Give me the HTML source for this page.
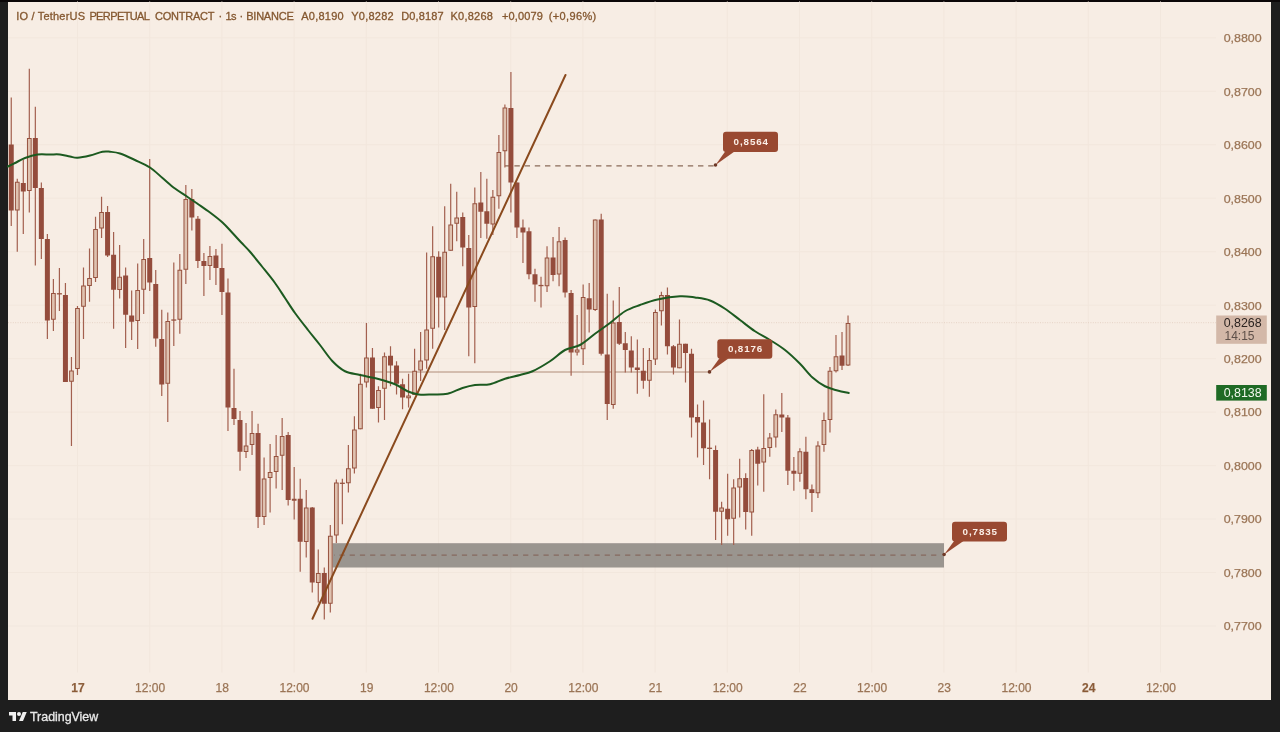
<!DOCTYPE html>
<html><head><meta charset="utf-8"><title>IO / TetherUS PERPETUAL CONTRACT</title>
<style>
html,body{margin:0;padding:0;}
body{width:1280px;height:732px;background:#1e1e1e;overflow:hidden;position:relative;font-family:"Liberation Sans",sans-serif;}
#top{position:absolute;left:0;top:0;width:1280px;height:1.5px;background:#0b0708;}
#chart{position:absolute;left:8px;top:1.5px;width:1263px;height:698px;background:#f7ede4;}
#hdr{position:absolute;left:16.2px;top:9.5px;font-size:11px;line-height:13px;color:#84572f;white-space:pre;-webkit-text-stroke:0.3px #84572f;}
#hdr span{position:absolute;top:0;white-space:pre;}
svg{position:absolute;left:0;top:0;}
svg text{font-family:"Liberation Sans",sans-serif;}
svg text.ax{stroke:#9b7556;stroke-width:0.25px;}
#logo{position:absolute;left:8.5px;top:709.8px;}
#tv{position:absolute;left:30px;top:710.1px;font-size:12.4px;line-height:14px;color:#e9e9e9;white-space:pre;-webkit-text-stroke:0.3px #e9e9e9;}
</style></head><body>
<div id="top"></div>
<div id="chart"></div>
<svg width="1280" height="732" viewBox="0 0 1280 732">
<rect x="77.0" y="1.5" width="1" height="671" fill="#f2e7dd"/>
<rect x="149.2" y="1.5" width="1" height="671" fill="#f2e7dd"/>
<rect x="221.4" y="1.5" width="1" height="671" fill="#f2e7dd"/>
<rect x="293.6" y="1.5" width="1" height="671" fill="#f2e7dd"/>
<rect x="365.8" y="1.5" width="1" height="671" fill="#f2e7dd"/>
<rect x="438.0" y="1.5" width="1" height="671" fill="#f2e7dd"/>
<rect x="510.2" y="1.5" width="1" height="671" fill="#f2e7dd"/>
<rect x="582.4" y="1.5" width="1" height="671" fill="#f2e7dd"/>
<rect x="654.6" y="1.5" width="1" height="671" fill="#f2e7dd"/>
<rect x="726.8" y="1.5" width="1" height="671" fill="#f2e7dd"/>
<rect x="799.0" y="1.5" width="1" height="671" fill="#f2e7dd"/>
<rect x="871.2" y="1.5" width="1" height="671" fill="#f2e7dd"/>
<rect x="943.4" y="1.5" width="1" height="671" fill="#f2e7dd"/>
<rect x="1015.6" y="1.5" width="1" height="671" fill="#f2e7dd"/>
<rect x="1087.8" y="1.5" width="1" height="671" fill="#f2e7dd"/>
<rect x="1160.0" y="1.5" width="1" height="671" fill="#f2e7dd"/>
<rect x="8" y="37.3" width="1208" height="1" fill="#f2e7dd"/>
<rect x="8" y="90.8" width="1208" height="1" fill="#f2e7dd"/>
<rect x="8" y="144.2" width="1208" height="1" fill="#f2e7dd"/>
<rect x="8" y="197.7" width="1208" height="1" fill="#f2e7dd"/>
<rect x="8" y="251.2" width="1208" height="1" fill="#f2e7dd"/>
<rect x="8" y="304.7" width="1208" height="1" fill="#f2e7dd"/>
<rect x="8" y="358.1" width="1208" height="1" fill="#f2e7dd"/>
<rect x="8" y="411.6" width="1208" height="1" fill="#f2e7dd"/>
<rect x="8" y="465.1" width="1208" height="1" fill="#f2e7dd"/>
<rect x="8" y="518.5" width="1208" height="1" fill="#f2e7dd"/>
<rect x="8" y="572.0" width="1208" height="1" fill="#f2e7dd"/>
<rect x="8" y="625.5" width="1208" height="1" fill="#f2e7dd"/>
<line x1="8" y1="322.7" x2="1216" y2="322.7" stroke="#e6d3c6" stroke-width="1" stroke-dasharray="1 1.4"/>
<rect x="332.5" y="543.2" width="611.5" height="24.3" fill="#8a8580" fill-opacity="0.85"/>
<line x1="936.3" y1="555.2" x2="334" y2="555.2" stroke="#85695f" stroke-width="1.3" stroke-dasharray="5.2 5"/>
<line x1="373.5" y1="372" x2="709.5" y2="372" stroke="#b08c79" stroke-width="1"/>
<line x1="713.6" y1="165.8" x2="505" y2="165.8" stroke="#8a6b58" stroke-width="1.3" stroke-dasharray="5.4 4.8"/>
<rect x="10.65" y="97.50" width="1.2" height="128.50" fill="#a3604f"/>
<rect x="8.75" y="144.50" width="5" height="66.00" fill="#944c3c"/>
<rect x="16.67" y="178.75" width="1.2" height="73.00" fill="#a3604f"/>
<rect x="15.42" y="182.25" width="3.7" height="27.75" fill="#dfc2b0" stroke="#96523f" stroke-width="1"/>
<rect x="22.69" y="160.00" width="1.2" height="74.00" fill="#a3604f"/>
<rect x="20.79" y="183.00" width="5" height="8.50" fill="#944c3c"/>
<rect x="28.71" y="68.75" width="1.2" height="143.75" fill="#a3604f"/>
<rect x="27.46" y="138.50" width="3.7" height="52.00" fill="#dfc2b0" stroke="#96523f" stroke-width="1"/>
<rect x="34.73" y="106.75" width="1.2" height="158.75" fill="#a3604f"/>
<rect x="32.83" y="138.00" width="5" height="50.00" fill="#944c3c"/>
<rect x="40.75" y="182.50" width="1.2" height="76.50" fill="#a3604f"/>
<rect x="38.85" y="188.00" width="5" height="51.00" fill="#944c3c"/>
<rect x="46.77" y="234.00" width="1.2" height="105.00" fill="#a3604f"/>
<rect x="44.87" y="239.00" width="5" height="81.50" fill="#944c3c"/>
<rect x="52.79" y="279.00" width="1.2" height="52.00" fill="#a3604f"/>
<rect x="51.54" y="293.50" width="3.7" height="25.75" fill="#dfc2b0" stroke="#96523f" stroke-width="1"/>
<rect x="58.81" y="268.00" width="1.2" height="43.00" fill="#a3604f"/>
<rect x="56.91" y="293.15" width="5" height="1.3" fill="#96523f"/>
<rect x="64.83" y="283.00" width="1.2" height="99.00" fill="#a3604f"/>
<rect x="62.93" y="295.00" width="5" height="87.00" fill="#944c3c"/>
<rect x="70.85" y="357.00" width="1.2" height="89.00" fill="#a3604f"/>
<rect x="69.60" y="371.00" width="3.7" height="10.25" fill="#dfc2b0" stroke="#96523f" stroke-width="1"/>
<rect x="76.87" y="306.00" width="1.2" height="69.00" fill="#a3604f"/>
<rect x="75.62" y="308.50" width="3.7" height="60.00" fill="#dfc2b0" stroke="#96523f" stroke-width="1"/>
<rect x="82.89" y="267.50" width="1.2" height="71.50" fill="#a3604f"/>
<rect x="81.64" y="286.00" width="3.7" height="20.25" fill="#dfc2b0" stroke="#96523f" stroke-width="1"/>
<rect x="88.91" y="248.50" width="1.2" height="53.25" fill="#a3604f"/>
<rect x="87.66" y="278.50" width="3.7" height="7.00" fill="#dfc2b0" stroke="#96523f" stroke-width="1"/>
<rect x="94.93" y="216.75" width="1.2" height="65.25" fill="#a3604f"/>
<rect x="93.68" y="229.50" width="3.7" height="48.00" fill="#dfc2b0" stroke="#96523f" stroke-width="1"/>
<rect x="100.95" y="196.75" width="1.2" height="41.25" fill="#a3604f"/>
<rect x="99.70" y="212.50" width="3.7" height="15.50" fill="#dfc2b0" stroke="#96523f" stroke-width="1"/>
<rect x="106.97" y="206.00" width="1.2" height="51.00" fill="#a3604f"/>
<rect x="105.07" y="212.00" width="5" height="43.50" fill="#944c3c"/>
<rect x="112.99" y="232.00" width="1.2" height="96.75" fill="#a3604f"/>
<rect x="111.09" y="254.75" width="5" height="35.00" fill="#944c3c"/>
<rect x="119.01" y="245.00" width="1.2" height="53.50" fill="#a3604f"/>
<rect x="117.76" y="277.25" width="3.7" height="12.25" fill="#dfc2b0" stroke="#96523f" stroke-width="1"/>
<rect x="125.03" y="267.50" width="1.2" height="80.50" fill="#a3604f"/>
<rect x="123.13" y="275.50" width="5" height="39.25" fill="#944c3c"/>
<rect x="131.05" y="290.50" width="1.2" height="49.50" fill="#a3604f"/>
<rect x="129.15" y="315.50" width="5" height="6.25" fill="#944c3c"/>
<rect x="137.07" y="263.50" width="1.2" height="85.50" fill="#a3604f"/>
<rect x="135.82" y="290.50" width="3.7" height="30.00" fill="#dfc2b0" stroke="#96523f" stroke-width="1"/>
<rect x="143.09" y="239.00" width="1.2" height="75.00" fill="#a3604f"/>
<rect x="141.84" y="259.50" width="3.7" height="29.75" fill="#dfc2b0" stroke="#96523f" stroke-width="1"/>
<rect x="149.11" y="159.00" width="1.2" height="132.00" fill="#a3604f"/>
<rect x="147.21" y="258.00" width="5" height="24.50" fill="#944c3c"/>
<rect x="155.13" y="270.00" width="1.2" height="76.75" fill="#a3604f"/>
<rect x="153.23" y="284.00" width="5" height="54.50" fill="#944c3c"/>
<rect x="161.15" y="309.75" width="1.2" height="86.25" fill="#a3604f"/>
<rect x="159.25" y="339.00" width="5" height="45.50" fill="#944c3c"/>
<rect x="167.17" y="312.50" width="1.2" height="109.50" fill="#a3604f"/>
<rect x="165.92" y="321.50" width="3.7" height="61.75" fill="#dfc2b0" stroke="#96523f" stroke-width="1"/>
<rect x="173.19" y="262.50" width="1.2" height="83.50" fill="#a3604f"/>
<rect x="171.29" y="319.40" width="5" height="1.3" fill="#96523f"/>
<rect x="179.21" y="254.00" width="1.2" height="79.75" fill="#a3604f"/>
<rect x="177.96" y="270.25" width="3.7" height="49.00" fill="#dfc2b0" stroke="#96523f" stroke-width="1"/>
<rect x="185.23" y="185.00" width="1.2" height="99.00" fill="#a3604f"/>
<rect x="183.98" y="199.50" width="3.7" height="69.75" fill="#dfc2b0" stroke="#96523f" stroke-width="1"/>
<rect x="191.25" y="189.00" width="1.2" height="41.50" fill="#a3604f"/>
<rect x="189.35" y="199.00" width="5" height="18.50" fill="#944c3c"/>
<rect x="197.27" y="216.00" width="1.2" height="52.00" fill="#a3604f"/>
<rect x="195.37" y="218.75" width="5" height="42.25" fill="#944c3c"/>
<rect x="203.29" y="253.00" width="1.2" height="43.00" fill="#a3604f"/>
<rect x="201.39" y="261.00" width="5" height="5.00" fill="#944c3c"/>
<rect x="209.31" y="246.00" width="1.2" height="34.00" fill="#a3604f"/>
<rect x="208.06" y="256.50" width="3.7" height="9.00" fill="#dfc2b0" stroke="#96523f" stroke-width="1"/>
<rect x="215.33" y="249.00" width="1.2" height="36.00" fill="#a3604f"/>
<rect x="213.43" y="255.50" width="5" height="12.50" fill="#944c3c"/>
<rect x="221.35" y="243.75" width="1.2" height="71.25" fill="#a3604f"/>
<rect x="219.45" y="268.00" width="5" height="24.00" fill="#944c3c"/>
<rect x="227.37" y="278.50" width="1.2" height="152.50" fill="#a3604f"/>
<rect x="225.47" y="292.50" width="5" height="115.00" fill="#944c3c"/>
<rect x="233.39" y="368.75" width="1.2" height="56.25" fill="#a3604f"/>
<rect x="231.49" y="408.00" width="5" height="11.00" fill="#944c3c"/>
<rect x="239.41" y="411.00" width="1.2" height="59.75" fill="#a3604f"/>
<rect x="237.51" y="420.00" width="5" height="31.75" fill="#944c3c"/>
<rect x="245.43" y="423.00" width="1.2" height="35.00" fill="#a3604f"/>
<rect x="244.18" y="446.00" width="3.7" height="5.50" fill="#dfc2b0" stroke="#96523f" stroke-width="1"/>
<rect x="251.45" y="411.00" width="1.2" height="44.00" fill="#a3604f"/>
<rect x="250.20" y="433.50" width="3.7" height="11.00" fill="#dfc2b0" stroke="#96523f" stroke-width="1"/>
<rect x="257.47" y="423.75" width="1.2" height="104.25" fill="#a3604f"/>
<rect x="255.57" y="433.00" width="5" height="84.00" fill="#944c3c"/>
<rect x="263.49" y="457.50" width="1.2" height="67.50" fill="#a3604f"/>
<rect x="262.24" y="479.00" width="3.7" height="37.50" fill="#dfc2b0" stroke="#96523f" stroke-width="1"/>
<rect x="269.51" y="444.00" width="1.2" height="68.50" fill="#a3604f"/>
<rect x="268.26" y="472.50" width="3.7" height="5.00" fill="#dfc2b0" stroke="#96523f" stroke-width="1"/>
<rect x="275.53" y="435.00" width="1.2" height="53.50" fill="#a3604f"/>
<rect x="274.28" y="456.50" width="3.7" height="15.00" fill="#dfc2b0" stroke="#96523f" stroke-width="1"/>
<rect x="281.55" y="418.00" width="1.2" height="72.00" fill="#a3604f"/>
<rect x="280.30" y="436.50" width="3.7" height="18.75" fill="#dfc2b0" stroke="#96523f" stroke-width="1"/>
<rect x="287.57" y="432.00" width="1.2" height="73.50" fill="#a3604f"/>
<rect x="285.67" y="435.00" width="5" height="65.00" fill="#944c3c"/>
<rect x="293.59" y="467.00" width="1.2" height="52.50" fill="#a3604f"/>
<rect x="292.34" y="499.25" width="3.7" height="1.00" fill="#dfc2b0" stroke="#96523f" stroke-width="1"/>
<rect x="299.61" y="478.75" width="1.2" height="93.00" fill="#a3604f"/>
<rect x="297.71" y="498.75" width="5" height="43.00" fill="#944c3c"/>
<rect x="305.63" y="490.00" width="1.2" height="67.50" fill="#a3604f"/>
<rect x="304.38" y="508.00" width="3.7" height="33.50" fill="#dfc2b0" stroke="#96523f" stroke-width="1"/>
<rect x="311.65" y="507.00" width="1.2" height="85.50" fill="#a3604f"/>
<rect x="309.75" y="507.50" width="5" height="75.00" fill="#944c3c"/>
<rect x="317.67" y="549.50" width="1.2" height="53.00" fill="#a3604f"/>
<rect x="316.42" y="573.50" width="3.7" height="9.00" fill="#dfc2b0" stroke="#96523f" stroke-width="1"/>
<rect x="323.69" y="567.50" width="1.2" height="52.00" fill="#a3604f"/>
<rect x="321.79" y="573.00" width="5" height="30.75" fill="#944c3c"/>
<rect x="329.71" y="525.00" width="1.2" height="87.50" fill="#a3604f"/>
<rect x="328.46" y="536.25" width="3.7" height="67.00" fill="#dfc2b0" stroke="#96523f" stroke-width="1"/>
<rect x="335.73" y="479.50" width="1.2" height="63.50" fill="#a3604f"/>
<rect x="334.48" y="483.00" width="3.7" height="52.00" fill="#dfc2b0" stroke="#96523f" stroke-width="1"/>
<rect x="341.75" y="478.75" width="1.2" height="45.50" fill="#a3604f"/>
<rect x="339.85" y="482.65" width="5" height="1.3" fill="#96523f"/>
<rect x="347.77" y="445.00" width="1.2" height="47.50" fill="#a3604f"/>
<rect x="346.52" y="468.75" width="3.7" height="14.00" fill="#dfc2b0" stroke="#96523f" stroke-width="1"/>
<rect x="353.79" y="416.25" width="1.2" height="57.25" fill="#a3604f"/>
<rect x="352.54" y="430.00" width="3.7" height="38.00" fill="#dfc2b0" stroke="#96523f" stroke-width="1"/>
<rect x="359.81" y="373.75" width="1.2" height="55.50" fill="#a3604f"/>
<rect x="358.56" y="384.25" width="3.7" height="44.50" fill="#dfc2b0" stroke="#96523f" stroke-width="1"/>
<rect x="365.83" y="323.00" width="1.2" height="64.50" fill="#a3604f"/>
<rect x="364.58" y="358.00" width="3.7" height="24.00" fill="#dfc2b0" stroke="#96523f" stroke-width="1"/>
<rect x="371.85" y="348.00" width="1.2" height="60.75" fill="#a3604f"/>
<rect x="369.95" y="357.50" width="5" height="51.25" fill="#944c3c"/>
<rect x="377.87" y="386.25" width="1.2" height="36.25" fill="#a3604f"/>
<rect x="376.62" y="390.50" width="3.7" height="17.00" fill="#dfc2b0" stroke="#96523f" stroke-width="1"/>
<rect x="383.89" y="352.50" width="1.2" height="67.50" fill="#a3604f"/>
<rect x="382.64" y="356.75" width="3.7" height="31.50" fill="#dfc2b0" stroke="#96523f" stroke-width="1"/>
<rect x="389.91" y="346.25" width="1.2" height="40.00" fill="#a3604f"/>
<rect x="388.01" y="355.75" width="5" height="9.75" fill="#944c3c"/>
<rect x="395.93" y="361.25" width="1.2" height="33.25" fill="#a3604f"/>
<rect x="394.03" y="365.50" width="5" height="18.25" fill="#944c3c"/>
<rect x="401.95" y="378.75" width="1.2" height="30.50" fill="#a3604f"/>
<rect x="400.05" y="384.25" width="5" height="13.25" fill="#944c3c"/>
<rect x="407.97" y="373.75" width="1.2" height="33.75" fill="#a3604f"/>
<rect x="406.72" y="396.00" width="3.7" height="1.75" fill="#dfc2b0" stroke="#96523f" stroke-width="1"/>
<rect x="413.99" y="348.75" width="1.2" height="46.25" fill="#a3604f"/>
<rect x="412.74" y="371.25" width="3.7" height="23.25" fill="#dfc2b0" stroke="#96523f" stroke-width="1"/>
<rect x="420.01" y="332.00" width="1.2" height="49.00" fill="#a3604f"/>
<rect x="418.76" y="361.00" width="3.7" height="9.00" fill="#dfc2b0" stroke="#96523f" stroke-width="1"/>
<rect x="426.03" y="252.50" width="1.2" height="116.25" fill="#a3604f"/>
<rect x="424.78" y="330.00" width="3.7" height="30.00" fill="#dfc2b0" stroke="#96523f" stroke-width="1"/>
<rect x="432.05" y="226.25" width="1.2" height="122.50" fill="#a3604f"/>
<rect x="430.80" y="256.75" width="3.7" height="71.50" fill="#dfc2b0" stroke="#96523f" stroke-width="1"/>
<rect x="438.07" y="251.25" width="1.2" height="76.25" fill="#a3604f"/>
<rect x="436.17" y="256.75" width="5" height="40.75" fill="#944c3c"/>
<rect x="444.09" y="206.25" width="1.2" height="123.75" fill="#a3604f"/>
<rect x="442.84" y="252.25" width="3.7" height="44.75" fill="#dfc2b0" stroke="#96523f" stroke-width="1"/>
<rect x="450.11" y="183.75" width="1.2" height="67.00" fill="#a3604f"/>
<rect x="448.86" y="225.00" width="3.7" height="25.25" fill="#dfc2b0" stroke="#96523f" stroke-width="1"/>
<rect x="456.13" y="191.75" width="1.2" height="49.50" fill="#a3604f"/>
<rect x="454.88" y="218.00" width="3.7" height="5.25" fill="#dfc2b0" stroke="#96523f" stroke-width="1"/>
<rect x="462.15" y="212.50" width="1.2" height="53.75" fill="#a3604f"/>
<rect x="460.25" y="217.00" width="5" height="30.50" fill="#944c3c"/>
<rect x="468.17" y="235.00" width="1.2" height="121.25" fill="#a3604f"/>
<rect x="466.27" y="248.00" width="5" height="59.50" fill="#944c3c"/>
<rect x="474.19" y="187.50" width="1.2" height="175.75" fill="#a3604f"/>
<rect x="472.94" y="203.75" width="3.7" height="102.75" fill="#dfc2b0" stroke="#96523f" stroke-width="1"/>
<rect x="480.21" y="172.00" width="1.2" height="66.00" fill="#a3604f"/>
<rect x="478.31" y="202.50" width="5" height="9.25" fill="#944c3c"/>
<rect x="486.23" y="178.75" width="1.2" height="60.00" fill="#a3604f"/>
<rect x="484.33" y="211.25" width="5" height="12.50" fill="#944c3c"/>
<rect x="492.25" y="190.00" width="1.2" height="45.00" fill="#a3604f"/>
<rect x="491.00" y="197.25" width="3.7" height="26.75" fill="#dfc2b0" stroke="#96523f" stroke-width="1"/>
<rect x="498.27" y="135.00" width="1.2" height="73.75" fill="#a3604f"/>
<rect x="497.02" y="152.50" width="3.7" height="43.25" fill="#dfc2b0" stroke="#96523f" stroke-width="1"/>
<rect x="504.29" y="104.50" width="1.2" height="63.00" fill="#a3604f"/>
<rect x="503.04" y="108.00" width="3.7" height="42.75" fill="#dfc2b0" stroke="#96523f" stroke-width="1"/>
<rect x="510.31" y="72.00" width="1.2" height="140.50" fill="#a3604f"/>
<rect x="508.41" y="108.00" width="5" height="74.50" fill="#944c3c"/>
<rect x="516.33" y="182.50" width="1.2" height="55.50" fill="#a3604f"/>
<rect x="514.43" y="182.50" width="5" height="45.00" fill="#944c3c"/>
<rect x="522.35" y="219.50" width="1.2" height="43.50" fill="#a3604f"/>
<rect x="520.45" y="227.50" width="5" height="5.00" fill="#944c3c"/>
<rect x="528.37" y="227.50" width="1.2" height="51.75" fill="#a3604f"/>
<rect x="526.47" y="231.25" width="5" height="43.00" fill="#944c3c"/>
<rect x="534.39" y="268.75" width="1.2" height="33.00" fill="#a3604f"/>
<rect x="532.49" y="274.25" width="5" height="10.25" fill="#944c3c"/>
<rect x="540.41" y="276.75" width="1.2" height="30.75" fill="#a3604f"/>
<rect x="538.51" y="284.90" width="5" height="1.3" fill="#96523f"/>
<rect x="546.43" y="246.25" width="1.2" height="45.75" fill="#a3604f"/>
<rect x="545.18" y="258.00" width="3.7" height="27.75" fill="#dfc2b0" stroke="#96523f" stroke-width="1"/>
<rect x="552.45" y="237.00" width="1.2" height="44.25" fill="#a3604f"/>
<rect x="550.55" y="257.50" width="5" height="17.50" fill="#944c3c"/>
<rect x="558.47" y="227.00" width="1.2" height="59.25" fill="#a3604f"/>
<rect x="557.22" y="241.75" width="3.7" height="32.25" fill="#dfc2b0" stroke="#96523f" stroke-width="1"/>
<rect x="564.49" y="237.50" width="1.2" height="60.00" fill="#a3604f"/>
<rect x="562.59" y="240.00" width="5" height="52.50" fill="#944c3c"/>
<rect x="570.51" y="290.00" width="1.2" height="85.75" fill="#a3604f"/>
<rect x="568.61" y="293.00" width="5" height="59.50" fill="#944c3c"/>
<rect x="576.53" y="315.00" width="1.2" height="40.50" fill="#a3604f"/>
<rect x="575.28" y="350.00" width="3.7" height="2.00" fill="#dfc2b0" stroke="#96523f" stroke-width="1"/>
<rect x="582.55" y="284.50" width="1.2" height="80.50" fill="#a3604f"/>
<rect x="581.30" y="297.50" width="3.7" height="51.25" fill="#dfc2b0" stroke="#96523f" stroke-width="1"/>
<rect x="588.57" y="283.00" width="1.2" height="49.50" fill="#a3604f"/>
<rect x="586.67" y="298.25" width="5" height="11.25" fill="#944c3c"/>
<rect x="594.59" y="219.50" width="1.2" height="91.50" fill="#a3604f"/>
<rect x="593.34" y="220.00" width="3.7" height="89.50" fill="#dfc2b0" stroke="#96523f" stroke-width="1"/>
<rect x="600.61" y="213.75" width="1.2" height="141.75" fill="#a3604f"/>
<rect x="598.71" y="219.50" width="5" height="134.25" fill="#944c3c"/>
<rect x="606.63" y="293.75" width="1.2" height="126.25" fill="#a3604f"/>
<rect x="604.73" y="354.50" width="5" height="49.50" fill="#944c3c"/>
<rect x="612.65" y="300.50" width="1.2" height="108.25" fill="#a3604f"/>
<rect x="611.40" y="323.00" width="3.7" height="81.50" fill="#dfc2b0" stroke="#96523f" stroke-width="1"/>
<rect x="618.67" y="287.00" width="1.2" height="58.00" fill="#a3604f"/>
<rect x="616.77" y="322.00" width="5" height="21.75" fill="#944c3c"/>
<rect x="624.69" y="332.00" width="1.2" height="40.50" fill="#a3604f"/>
<rect x="622.79" y="343.25" width="5" height="6.75" fill="#944c3c"/>
<rect x="630.71" y="336.25" width="1.2" height="36.25" fill="#a3604f"/>
<rect x="628.81" y="350.50" width="5" height="17.00" fill="#944c3c"/>
<rect x="636.73" y="339.50" width="1.2" height="54.25" fill="#a3604f"/>
<rect x="634.83" y="367.50" width="5" height="2.50" fill="#944c3c"/>
<rect x="642.75" y="348.00" width="1.2" height="40.75" fill="#a3604f"/>
<rect x="640.85" y="370.75" width="5" height="10.00" fill="#944c3c"/>
<rect x="648.77" y="348.00" width="1.2" height="48.75" fill="#a3604f"/>
<rect x="647.52" y="360.50" width="3.7" height="19.75" fill="#dfc2b0" stroke="#96523f" stroke-width="1"/>
<rect x="654.79" y="309.50" width="1.2" height="55.50" fill="#a3604f"/>
<rect x="653.54" y="312.50" width="3.7" height="46.50" fill="#dfc2b0" stroke="#96523f" stroke-width="1"/>
<rect x="660.81" y="291.75" width="1.2" height="33.75" fill="#a3604f"/>
<rect x="659.56" y="295.50" width="3.7" height="15.25" fill="#dfc2b0" stroke="#96523f" stroke-width="1"/>
<rect x="666.83" y="287.50" width="1.2" height="67.00" fill="#a3604f"/>
<rect x="664.93" y="295.00" width="5" height="51.25" fill="#944c3c"/>
<rect x="672.85" y="345.00" width="1.2" height="29.50" fill="#a3604f"/>
<rect x="670.95" y="346.25" width="5" height="21.25" fill="#944c3c"/>
<rect x="678.87" y="319.50" width="1.2" height="48.75" fill="#a3604f"/>
<rect x="677.62" y="344.25" width="3.7" height="23.50" fill="#dfc2b0" stroke="#96523f" stroke-width="1"/>
<rect x="684.89" y="343.75" width="1.2" height="38.75" fill="#a3604f"/>
<rect x="682.99" y="343.75" width="5" height="9.25" fill="#944c3c"/>
<rect x="690.91" y="348.75" width="1.2" height="88.75" fill="#a3604f"/>
<rect x="689.01" y="353.75" width="5" height="63.75" fill="#944c3c"/>
<rect x="696.93" y="404.50" width="1.2" height="53.00" fill="#a3604f"/>
<rect x="695.03" y="417.00" width="5" height="5.50" fill="#944c3c"/>
<rect x="702.95" y="400.50" width="1.2" height="64.50" fill="#a3604f"/>
<rect x="701.05" y="422.50" width="5" height="25.75" fill="#944c3c"/>
<rect x="708.97" y="419.50" width="1.2" height="59.75" fill="#a3604f"/>
<rect x="707.07" y="447.65" width="5" height="1.3" fill="#96523f"/>
<rect x="714.99" y="445.50" width="1.2" height="94.50" fill="#a3604f"/>
<rect x="713.09" y="450.00" width="5" height="61.75" fill="#944c3c"/>
<rect x="721.01" y="501.75" width="1.2" height="43.25" fill="#a3604f"/>
<rect x="719.76" y="508.00" width="3.7" height="3.25" fill="#dfc2b0" stroke="#96523f" stroke-width="1"/>
<rect x="727.03" y="473.75" width="1.2" height="62.00" fill="#a3604f"/>
<rect x="725.13" y="508.75" width="5" height="10.50" fill="#944c3c"/>
<rect x="733.05" y="479.25" width="1.2" height="65.75" fill="#a3604f"/>
<rect x="731.80" y="488.00" width="3.7" height="30.25" fill="#dfc2b0" stroke="#96523f" stroke-width="1"/>
<rect x="739.07" y="458.75" width="1.2" height="58.75" fill="#a3604f"/>
<rect x="737.82" y="478.75" width="3.7" height="8.25" fill="#dfc2b0" stroke="#96523f" stroke-width="1"/>
<rect x="745.09" y="473.25" width="1.2" height="56.25" fill="#a3604f"/>
<rect x="743.19" y="478.00" width="5" height="34.00" fill="#944c3c"/>
<rect x="751.11" y="449.00" width="1.2" height="86.75" fill="#a3604f"/>
<rect x="749.86" y="450.50" width="3.7" height="61.50" fill="#dfc2b0" stroke="#96523f" stroke-width="1"/>
<rect x="757.13" y="446.75" width="1.2" height="38.75" fill="#a3604f"/>
<rect x="755.23" y="449.50" width="5" height="14.25" fill="#944c3c"/>
<rect x="763.15" y="394.25" width="1.2" height="97.50" fill="#a3604f"/>
<rect x="761.90" y="448.50" width="3.7" height="13.50" fill="#dfc2b0" stroke="#96523f" stroke-width="1"/>
<rect x="769.17" y="433.00" width="1.2" height="23.75" fill="#a3604f"/>
<rect x="767.92" y="438.00" width="3.7" height="9.50" fill="#dfc2b0" stroke="#96523f" stroke-width="1"/>
<rect x="775.19" y="409.50" width="1.2" height="38.00" fill="#a3604f"/>
<rect x="773.94" y="414.75" width="3.7" height="22.25" fill="#dfc2b0" stroke="#96523f" stroke-width="1"/>
<rect x="781.21" y="393.00" width="1.2" height="39.00" fill="#a3604f"/>
<rect x="779.31" y="414.50" width="5" height="3.00" fill="#944c3c"/>
<rect x="787.23" y="415.00" width="1.2" height="70.00" fill="#a3604f"/>
<rect x="785.33" y="417.50" width="5" height="53.25" fill="#944c3c"/>
<rect x="793.25" y="457.00" width="1.2" height="33.75" fill="#a3604f"/>
<rect x="791.35" y="470.75" width="5" height="3.00" fill="#944c3c"/>
<rect x="799.27" y="448.25" width="1.2" height="33.50" fill="#a3604f"/>
<rect x="798.02" y="451.75" width="3.7" height="21.50" fill="#dfc2b0" stroke="#96523f" stroke-width="1"/>
<rect x="805.29" y="436.75" width="1.2" height="62.50" fill="#a3604f"/>
<rect x="803.39" y="451.75" width="5" height="37.50" fill="#944c3c"/>
<rect x="811.31" y="484.50" width="1.2" height="27.50" fill="#a3604f"/>
<rect x="809.41" y="489.25" width="5" height="3.75" fill="#944c3c"/>
<rect x="817.33" y="441.25" width="1.2" height="56.75" fill="#a3604f"/>
<rect x="816.08" y="446.00" width="3.7" height="46.75" fill="#dfc2b0" stroke="#96523f" stroke-width="1"/>
<rect x="823.35" y="412.50" width="1.2" height="39.25" fill="#a3604f"/>
<rect x="822.10" y="420.50" width="3.7" height="24.00" fill="#dfc2b0" stroke="#96523f" stroke-width="1"/>
<rect x="829.37" y="367.00" width="1.2" height="65.50" fill="#a3604f"/>
<rect x="828.12" y="371.25" width="3.7" height="48.25" fill="#dfc2b0" stroke="#96523f" stroke-width="1"/>
<rect x="835.39" y="335.00" width="1.2" height="37.50" fill="#a3604f"/>
<rect x="834.14" y="356.75" width="3.7" height="14.00" fill="#dfc2b0" stroke="#96523f" stroke-width="1"/>
<rect x="841.41" y="332.00" width="1.2" height="38.00" fill="#a3604f"/>
<rect x="839.51" y="355.50" width="5" height="10.25" fill="#944c3c"/>
<rect x="847.43" y="315.50" width="1.2" height="50.50" fill="#a3604f"/>
<rect x="846.18" y="323.50" width="3.7" height="41.50" fill="#dfc2b0" stroke="#96523f" stroke-width="1"/>
<line x1="312.5" y1="618.75" x2="565.5" y2="75" stroke="#8a4a1e" stroke-width="2" stroke-linecap="round"/>
<path d="M8.00,166.50C9.17,165.92 12.17,164.42 15.00,163.00C17.83,161.58 21.25,159.42 25.00,158.00C28.75,156.58 33.33,155.08 37.50,154.50C41.67,153.92 46.25,154.50 50.00,154.50C53.75,154.50 56.67,154.17 60.00,154.50C63.33,154.83 67.08,155.96 70.00,156.50C72.92,157.04 74.17,157.92 77.50,157.75C80.83,157.58 85.83,156.50 90.00,155.50C94.17,154.50 99.17,152.38 102.50,151.75C105.83,151.12 107.08,151.46 110.00,151.75C112.92,152.04 115.83,152.12 120.00,153.50C124.17,154.88 130.00,157.67 135.00,160.00C140.00,162.33 145.42,164.50 150.00,167.50C154.58,170.50 158.33,174.50 162.50,178.00C166.67,181.50 171.04,185.50 175.00,188.50C178.96,191.50 182.50,193.46 186.25,196.00C190.00,198.54 193.54,201.00 197.50,203.75C201.46,206.50 205.83,209.38 210.00,212.50C214.17,215.62 218.75,219.08 222.50,222.50C226.25,225.92 229.38,229.67 232.50,233.00C235.62,236.33 238.33,239.38 241.25,242.50C244.17,245.62 246.54,247.75 250.00,251.75C253.46,255.75 257.83,261.29 262.00,266.50C266.17,271.71 271.17,277.75 275.00,283.00C278.83,288.25 281.67,293.00 285.00,298.00C288.33,303.00 291.17,307.67 295.00,313.00C298.83,318.33 303.83,324.67 308.00,330.00C312.17,335.33 315.92,339.79 320.00,345.00C324.08,350.21 328.33,356.88 332.50,361.25C336.67,365.62 340.42,368.96 345.00,371.25C349.58,373.54 354.58,373.75 360.00,375.00C365.42,376.25 371.67,377.21 377.50,378.75C383.33,380.29 390.00,382.17 395.00,384.25C400.00,386.33 403.54,389.54 407.50,391.25C411.46,392.96 414.58,393.96 418.75,394.50C422.92,395.04 427.71,394.62 432.50,394.50C437.29,394.38 442.50,394.83 447.50,393.75C452.50,392.67 457.92,389.46 462.50,388.00C467.08,386.54 470.42,385.62 475.00,385.00C479.58,384.38 485.00,385.29 490.00,384.25C495.00,383.21 500.00,380.29 505.00,378.75C510.00,377.21 515.42,376.25 520.00,375.00C524.58,373.75 527.50,373.54 532.50,371.25C537.50,368.96 544.58,364.79 550.00,361.25C555.42,357.71 560.00,352.71 565.00,350.00C570.00,347.29 575.00,347.71 580.00,345.00C585.00,342.29 590.00,337.42 595.00,333.75C600.00,330.08 605.00,326.75 610.00,323.00C615.00,319.25 620.00,314.25 625.00,311.25C630.00,308.25 634.58,306.96 640.00,305.00C645.42,303.04 650.83,300.96 657.50,299.50C664.17,298.04 673.75,296.58 680.00,296.25C686.25,295.92 690.00,296.79 695.00,297.50C700.00,298.21 705.00,298.62 710.00,300.50C715.00,302.38 720.00,305.50 725.00,308.75C730.00,312.00 735.00,316.25 740.00,320.00C745.00,323.75 750.00,327.92 755.00,331.25C760.00,334.58 765.00,336.88 770.00,340.00C775.00,343.12 780.00,346.04 785.00,350.00C790.00,353.96 795.42,359.17 800.00,363.75C804.58,368.33 808.33,373.75 812.50,377.50C816.67,381.25 820.83,384.08 825.00,386.25C829.17,388.42 833.54,389.38 837.50,390.50C841.46,391.62 846.88,392.58 848.75,393.00" fill="none" stroke="#1c5a20" stroke-width="2" stroke-linejoin="round" stroke-linecap="round"/>
<path d="M725.5,151.0 L734.5,151.5 L715.5,165 Z" fill="#994931"/>
<rect x="723" y="131.8" width="55" height="20.2" rx="3" fill="#994931"/>
<circle cx="715.5" cy="165" r="1.8" fill="#6e3826"/>
<text x="750.8" y="145.0" text-anchor="middle" font-size="9.8" font-weight="700" fill="#fbeee6" textLength="34.4" lengthAdjust="spacing">0,8564</text>
<path d="M719.8,357.8 L728.8,358.3 L709.5,371.9 Z" fill="#994931"/>
<rect x="717.3" y="339.3" width="55" height="19.5" rx="3" fill="#994931"/>
<circle cx="709.5" cy="371.9" r="1.8" fill="#6e3826"/>
<text x="745.0999999999999" y="352.15000000000003" text-anchor="middle" font-size="9.8" font-weight="700" fill="#fbeee6" textLength="34.4" lengthAdjust="spacing">0,8176</text>
<path d="M954.5,540.5 L963.5,541.0 L944.1,554.5 Z" fill="#994931"/>
<rect x="952" y="521.7" width="55" height="19.8" rx="3" fill="#994931"/>
<circle cx="944.1" cy="554.5" r="1.8" fill="#6e3826"/>
<text x="979.8" y="534.7" text-anchor="middle" font-size="9.8" font-weight="700" fill="#fbeee6" textLength="34.4" lengthAdjust="spacing">0,7835</text>
<text class="ax" x="1223.7" y="42.1" font-size="11.7" fill="#9b7556" textLength="38" lengthAdjust="spacingAndGlyphs">0,8800</text>
<text class="ax" x="1223.7" y="95.6" font-size="11.7" fill="#9b7556" textLength="38" lengthAdjust="spacingAndGlyphs">0,8700</text>
<text class="ax" x="1223.7" y="149.0" font-size="11.7" fill="#9b7556" textLength="38" lengthAdjust="spacingAndGlyphs">0,8600</text>
<text class="ax" x="1223.7" y="202.5" font-size="11.7" fill="#9b7556" textLength="38" lengthAdjust="spacingAndGlyphs">0,8500</text>
<text class="ax" x="1223.7" y="256.0" font-size="11.7" fill="#9b7556" textLength="38" lengthAdjust="spacingAndGlyphs">0,8400</text>
<text class="ax" x="1223.7" y="309.5" font-size="11.7" fill="#9b7556" textLength="38" lengthAdjust="spacingAndGlyphs">0,8300</text>
<text class="ax" x="1223.7" y="362.9" font-size="11.7" fill="#9b7556" textLength="38" lengthAdjust="spacingAndGlyphs">0,8200</text>
<text class="ax" x="1223.7" y="416.4" font-size="11.7" fill="#9b7556" textLength="38" lengthAdjust="spacingAndGlyphs">0,8100</text>
<text class="ax" x="1223.7" y="469.9" font-size="11.7" fill="#9b7556" textLength="38" lengthAdjust="spacingAndGlyphs">0,8000</text>
<text class="ax" x="1223.7" y="523.3" font-size="11.7" fill="#9b7556" textLength="38" lengthAdjust="spacingAndGlyphs">0,7900</text>
<text class="ax" x="1223.7" y="576.8" font-size="11.7" fill="#9b7556" textLength="38" lengthAdjust="spacingAndGlyphs">0,7800</text>
<text class="ax" x="1223.7" y="630.3" font-size="11.7" fill="#9b7556" textLength="38" lengthAdjust="spacingAndGlyphs">0,7700</text>
<rect x="1216.2" y="315.5" width="50.6" height="28.3" fill="#d3b8a8"/>
<text x="1223.7" y="326.7" font-size="12" fill="#2b2320" textLength="38" lengthAdjust="spacingAndGlyphs">0,8268</text>
<text x="1224.5" y="339.5" font-size="12" fill="#5d4f48" textLength="30" lengthAdjust="spacingAndGlyphs">14:15</text>
<rect x="1216.2" y="385" width="50.6" height="15.6" fill="#1f6a25"/>
<text x="1223.7" y="397" font-size="12" fill="#f3f7ef" textLength="38" lengthAdjust="spacingAndGlyphs">0,8138</text>
<text class="ax" x="77.9" y="691.8" font-size="12" text-anchor="middle" fill="#8a5a36" font-weight="700">17</text>
<text class="ax" x="150.1" y="691.8" font-size="12" text-anchor="middle" fill="#9b7556">12:00</text>
<text class="ax" x="222.3" y="691.8" font-size="12" text-anchor="middle" fill="#9b7556">18</text>
<text class="ax" x="294.5" y="691.8" font-size="12" text-anchor="middle" fill="#9b7556">12:00</text>
<text class="ax" x="366.7" y="691.8" font-size="12" text-anchor="middle" fill="#9b7556">19</text>
<text class="ax" x="438.9" y="691.8" font-size="12" text-anchor="middle" fill="#9b7556">12:00</text>
<text class="ax" x="511.1" y="691.8" font-size="12" text-anchor="middle" fill="#9b7556">20</text>
<text class="ax" x="583.3" y="691.8" font-size="12" text-anchor="middle" fill="#9b7556">12:00</text>
<text class="ax" x="655.5" y="691.8" font-size="12" text-anchor="middle" fill="#9b7556">21</text>
<text class="ax" x="727.7" y="691.8" font-size="12" text-anchor="middle" fill="#9b7556">12:00</text>
<text class="ax" x="799.9" y="691.8" font-size="12" text-anchor="middle" fill="#9b7556">22</text>
<text class="ax" x="872.1" y="691.8" font-size="12" text-anchor="middle" fill="#9b7556">12:00</text>
<text class="ax" x="944.3" y="691.8" font-size="12" text-anchor="middle" fill="#9b7556">23</text>
<text class="ax" x="1016.5" y="691.8" font-size="12" text-anchor="middle" fill="#9b7556">12:00</text>
<text class="ax" x="1088.7" y="691.8" font-size="12" text-anchor="middle" fill="#8a5a36" font-weight="700">24</text>
<text class="ax" x="1160.9" y="691.8" font-size="12" text-anchor="middle" fill="#9b7556">12:00</text>
</svg>
<div id="hdr"><span style="left:0.05px;letter-spacing:0.193px">IO / TetherUS</span><span style="left:73.20px;letter-spacing:-0.601px">PERPETUAL</span><span style="left:138.80px;letter-spacing:-0.229px">CONTRACT</span><span style="left:202.40px;letter-spacing:0.000px">·</span><span style="left:209.30px;letter-spacing:-0.717px">1s</span><span style="left:223.40px;letter-spacing:0.000px">·</span><span style="left:230.05px;letter-spacing:-0.233px">BINANCE</span><span style="left:285.05px;letter-spacing:0.253px">A0,8190</span><span style="left:335.05px;letter-spacing:0.253px">Y0,8282</span><span style="left:385.05px;letter-spacing:0.152px">D0,8187</span><span style="left:434.30px;letter-spacing:0.253px">K0,8268</span><span style="left:485.80px;letter-spacing:0.156px">+0,0079</span><span style="left:532.55px;letter-spacing:0.366px">(+0,96%)</span></div>
<svg id="logo" width="18" height="14" viewBox="0 0 36 28"><path d="M14 22H7V11H0V4h14v18zM28 22h-8l7.5-18h8L28 22z" fill="#f0f0f0"/><circle cx="20" cy="8" r="4" fill="#f0f0f0"/></svg>
<div id="tv">TradingView</div>
</body></html>
